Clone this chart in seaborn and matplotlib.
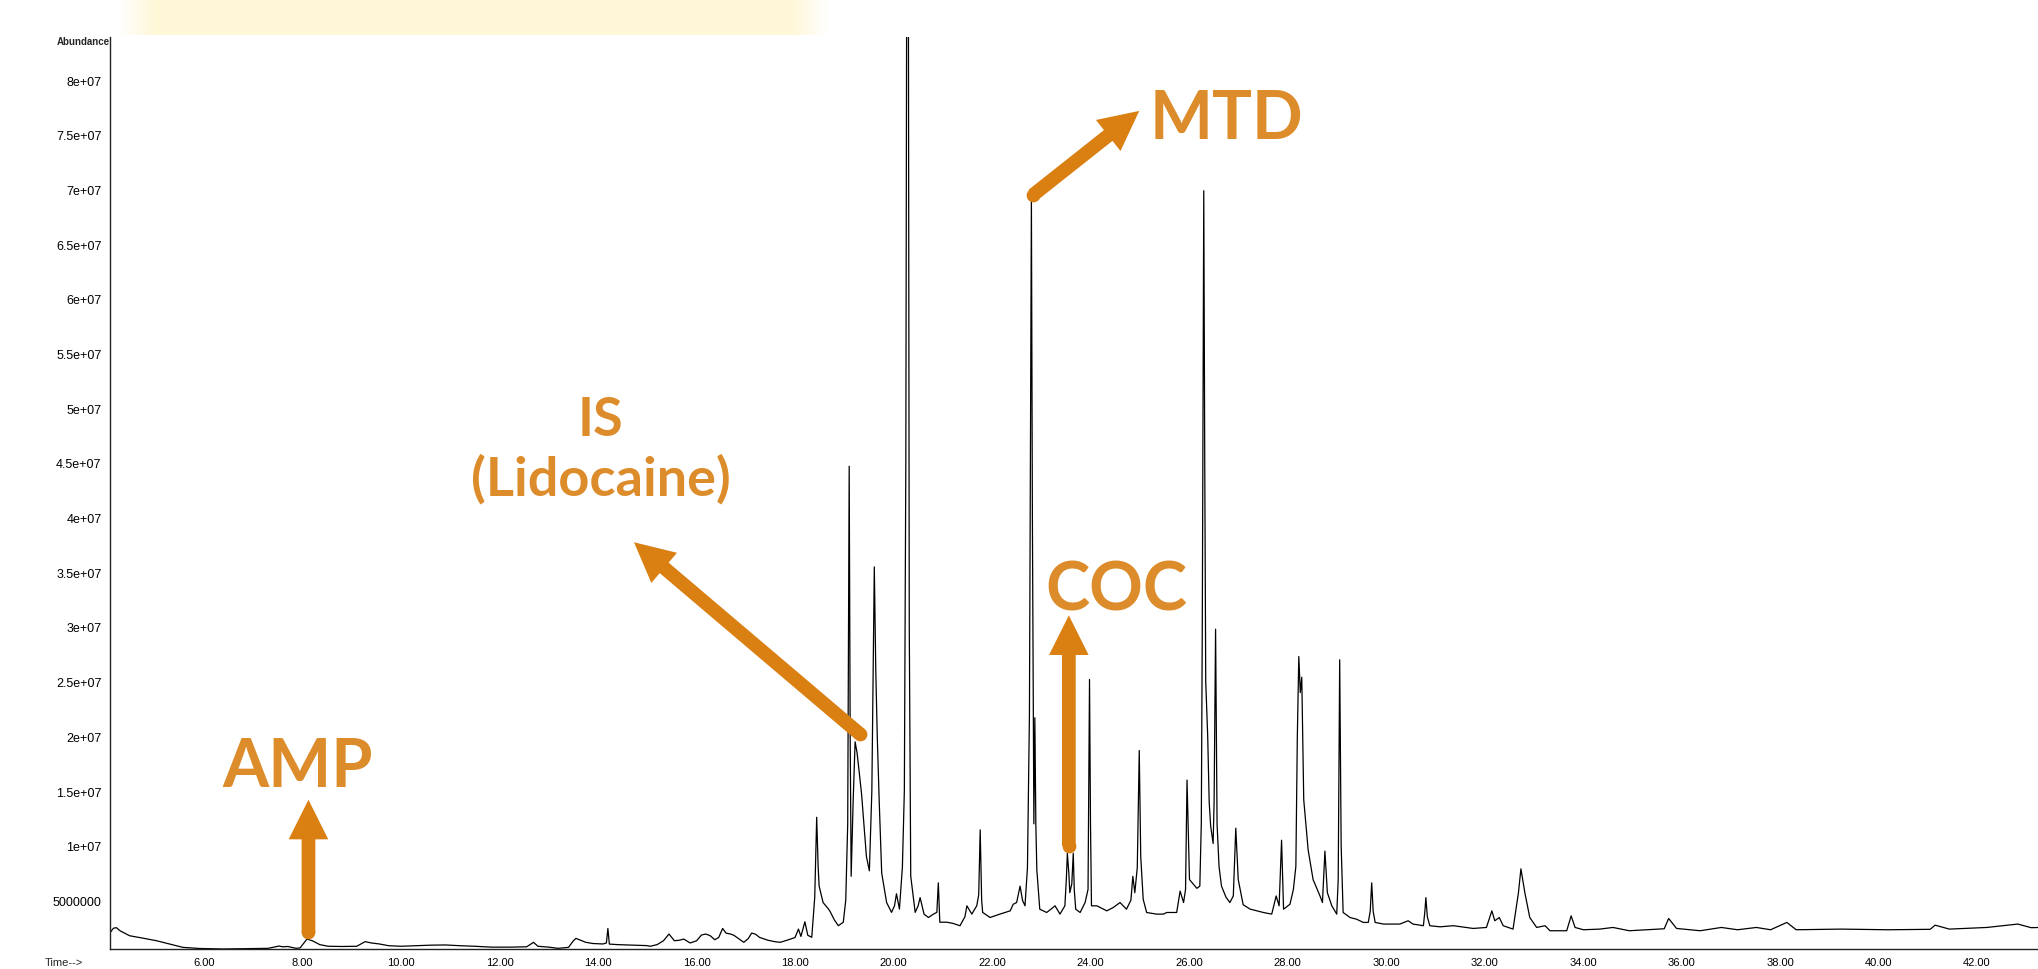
import numpy as np
import pandas as pd
import matplotlib
matplotlib.use("Agg")
import matplotlib.pyplot as plt
import seaborn as sns
from matplotlib.ticker import MultipleLocator, FuncFormatter
from matplotlib.colors import LinearSegmentedColormap

# Total ion chromatogram: retention time (min), abundance (millions)
rt_min = [
    4.10, 4.16, 4.22, 4.30, 4.49, 4.75, 5.03, 5.30, 5.57, 5.90, 6.39, 6.90, 7.30, 7.45,
    7.52, 7.60, 7.70, 7.87, 7.95, 8.09, 8.20, 8.35, 8.52, 8.80, 9.10, 9.20, 9.27, 9.40,
    9.56, 9.75, 10.00, 10.30, 10.60, 10.90, 11.20, 11.50, 11.83, 12.20, 12.55, 12.69,
    12.78, 13.00, 13.19, 13.40, 13.50, 13.55, 13.62, 13.75, 13.90, 14.10, 14.17, 14.20,
    14.23, 14.40, 14.70, 14.99, 15.06, 15.20, 15.33, 15.44, 15.55, 15.65, 15.74, 15.87,
    16.00, 16.10, 16.19, 16.28, 16.37, 16.45, 16.53, 16.60, 16.69, 16.76, 16.82, 16.96,
    17.05, 17.12, 17.20, 17.28, 17.45, 17.59, 17.70, 17.87, 18.00, 18.07, 18.12, 18.20,
    18.26, 18.34, 18.40, 18.44, 18.47, 18.49, 18.57, 18.68, 18.71, 18.80, 18.88, 18.98,
    19.03, 19.07, 19.10, 19.12, 19.14, 19.18, 19.22, 19.26, 19.35, 19.45, 19.51, 19.56,
    19.61, 19.64, 19.67, 19.71, 19.76, 19.86, 19.96, 20.02, 20.06, 20.12, 20.18, 20.22,
    20.25, 20.27, 20.30, 20.32, 20.35, 20.44, 20.50, 20.54, 20.62, 20.71, 20.81, 20.88,
    20.91, 20.94, 21.08, 21.20, 21.35, 21.45, 21.49, 21.59, 21.69, 21.73, 21.76, 21.79,
    21.81, 21.96, 22.16, 22.37, 22.43, 22.50, 22.57, 22.62, 22.67, 22.72, 22.76, 22.80,
    22.82, 22.85, 22.87, 22.89, 22.91, 22.97, 23.11, 23.20, 23.28, 23.38, 23.48, 23.51,
    23.53, 23.56, 23.58, 23.62, 23.65, 23.67, 23.70, 23.79, 23.89, 23.95, 23.98, 24.00,
    24.02, 24.13, 24.33, 24.46, 24.60, 24.73, 24.82, 24.86, 24.90, 24.95, 24.99, 25.02,
    25.07, 25.14, 25.34, 25.48, 25.55, 25.75, 25.82, 25.89, 25.93, 25.96, 26.01, 26.16,
    26.22, 26.25, 26.27, 26.30, 26.32, 26.34, 26.38, 26.41, 26.44, 26.49, 26.51, 26.54,
    26.57, 26.61, 26.66, 26.75, 26.83, 26.90, 26.95, 27.00, 27.10, 27.24, 27.51, 27.68,
    27.77, 27.83, 27.88, 27.92, 28.05, 28.12, 28.17, 28.20, 28.23, 28.26, 28.29, 28.33,
    28.42, 28.52, 28.66, 28.71, 28.76, 28.81, 28.90, 29.00, 29.03, 29.06, 29.09, 29.13,
    29.27, 29.40, 29.54, 29.64, 29.68, 29.71, 29.74, 29.78, 29.95, 30.28, 30.45, 30.55,
    30.76, 30.79, 30.81, 30.84, 30.89, 31.10, 31.37, 31.77, 32.04, 32.15, 32.21, 32.30,
    32.38, 32.58, 32.69, 32.74, 32.82, 32.92, 33.06, 33.23, 33.33, 33.67, 33.76, 33.84,
    34.01, 34.34, 34.61, 34.94, 35.65, 35.74, 35.90, 36.38, 36.81, 37.14, 37.52, 37.81,
    38.14, 38.33, 39.24, 40.20, 41.05, 41.15, 41.44, 42.20, 42.83, 43.10, 43.30,
]
abund_m = [
    2.10, 2.45, 2.50, 2.20, 1.76, 1.55, 1.31, 1.00, 0.70, 0.60, 0.55, 0.58, 0.61, 0.75,
    0.82, 0.75, 0.78, 0.61, 0.65, 1.46, 1.30, 0.95, 0.80, 0.78, 0.80, 1.05, 1.22, 1.10,
    1.01, 0.85, 0.80, 0.85, 0.90, 0.92, 0.85, 0.80, 0.72, 0.72, 0.75, 1.16,
    0.80, 0.72, 0.61, 0.70, 1.30, 1.52, 1.40, 1.16, 1.05, 1.01, 1.10, 2.43,
    1.00, 0.95, 0.90, 0.86, 0.80, 0.95, 1.31, 1.92, 1.31, 1.35, 1.46, 1.10,
    1.30, 1.83, 1.92, 1.76, 1.40, 1.60, 2.43, 2.00, 1.92, 1.80, 1.61, 1.16,
    1.50, 2.01, 1.90, 1.61, 1.35, 1.22, 1.16, 1.40, 1.60, 2.37, 1.70, 3.04,
    1.80, 1.62, 5.25, 12.60, 8.00, 6.30, 4.80, 4.20, 4.00, 3.20, 2.68, 3.00,
    5.00, 12.00, 44.70, 20.00, 7.20, 14.00, 19.50, 18.50, 14.80, 9.00, 7.70, 15.00,
    35.50, 26.00, 20.00, 14.00, 7.50, 4.80, 3.90, 4.50, 5.60, 4.20, 8.00, 15.00,
    45.00, 95.00, 95.00, 30.00, 7.20, 3.90, 4.50, 5.25, 3.74, 3.43, 3.74, 3.90,
    6.60, 3.00, 3.00, 2.90, 2.68, 3.50, 4.50, 3.74, 4.50, 5.50, 11.45, 5.00,
    3.90, 3.43, 3.74, 4.04, 4.64, 4.80, 6.30, 5.00, 4.50, 8.00, 22.00, 69.10,
    40.00, 12.00, 21.70, 12.00, 7.80, 4.19, 3.89, 4.20, 4.50, 3.74, 4.50, 7.00,
    9.30, 7.50, 5.70, 6.50, 9.30, 6.00, 4.19, 3.89, 4.80, 6.00, 25.20, 12.00,
    4.50, 4.50, 4.04, 4.34, 4.80, 4.19, 5.00, 7.20, 5.70, 8.00, 18.70, 9.00,
    5.10, 3.89, 3.74, 3.74, 3.89, 3.89, 5.85, 4.80, 6.00, 16.00, 6.90, 6.10,
    6.30, 12.00, 30.00, 69.90, 45.00, 25.00, 20.00, 14.00, 11.80, 10.20, 14.00, 29.80,
    12.00, 8.10, 6.30, 5.30, 4.80, 5.40, 11.60, 6.90, 4.60, 4.20, 3.89, 3.74,
    5.40, 4.50, 10.50, 4.19, 4.64, 6.00, 8.10, 20.00, 27.30, 24.00, 25.40, 14.20,
    9.60, 6.90, 5.40, 4.80, 9.50, 5.70, 4.50, 3.74, 6.90, 27.00, 10.00, 3.89,
    3.43, 3.28, 2.98, 2.98, 4.00, 6.60, 4.00, 2.98, 2.83, 2.83, 3.13, 2.83,
    2.68, 4.00, 5.25, 3.50, 2.68, 2.58, 2.68, 2.43, 2.52, 4.04, 3.13, 3.43,
    2.68, 2.37, 5.70, 7.88, 5.70, 3.43, 2.52, 2.68, 2.22, 2.22, 3.58, 2.52,
    2.31, 2.37, 2.52, 2.22, 2.40, 3.34, 2.43, 2.22, 2.52, 2.31, 2.52, 2.31,
    2.98, 2.31, 2.37, 2.31, 2.35, 2.73, 2.37, 2.52, 2.83, 2.50, 2.52,
]

x_major = [6, 8, 10, 12, 14, 16, 18, 20, 22, 24, 26, 28, 30, 32, 34, 36, 38, 40, 42]
y_major = [5e6, 1e7, 1.5e7, 2e7, 2.5e7, 3e7, 3.5e7, 4e7, 4.5e7, 5e7, 5.5e7,
           6e7, 6.5e7, 7e7, 7.5e7, 8e7]

# compound labels (text, x in min, baseline in millions)
label_text = ["AMP", "IS", "(Lidocaine)", "COC", "MTD"]
label_pos = [(7.91, 15.5), (14.06, 47.55), (14.06, 42.1), (24.52, 31.6), (26.77, 74.7)]
label_size = [48, 39, 39, 48, 48]
# arrows: tail -> tip (min, millions)
arrow_tail = [(8.12, 2.07), (19.32, 20.2), (23.56, 9.97), (22.83, 69.5)]
arrow_tip = [(8.12, 14.2), (14.73, 37.75), (23.56, 31.06), (24.99, 77.2)]

orange = "#DA7F12"
text_orange = "#DD8C2B"

df = pd.DataFrame({"Time": rt_min, "Abundance": np.array(abund_m) * 1e6})

sns.set_theme(style="white")
plt.rcParams["font.family"] = ["Liberation Sans", "DejaVu Sans"]

W, H = 2038, 970
fig = plt.figure(figsize=(W / 100, H / 100), dpi=100)
fig.patch.set_facecolor("white")

# cream slide band across the top
band = fig.add_axes([118 / W, 1 - 36 / H, 712 / W, 36 / H], zorder=-1)
ramp = np.concatenate([np.linspace(0, 1, 40), np.ones(630), np.linspace(1, 0, 42)])
band.imshow(ramp[None, :], aspect="auto", vmin=0, vmax=1,
            cmap=LinearSegmentedColormap.from_list("cream", ["white", "#FFF7D6"]))
band.axis("off")

ax_bottom = 950.0
ax = fig.add_axes([110 / W, (H - ax_bottom) / H, 1 - 110 / W, (ax_bottom - 38) / H])
sns.lineplot(data=df, x="Time", y="Abundance", color="black", lw=0.9,
             sort=False, estimator=None, ax=ax)

ax.set_xlim(4.09, 43.24)
ax.set_ylim(0.55e6, 8.396e7)
ax.set_xlabel("")
ax.set_ylabel("")
for side in ["top", "right"]:
    ax.spines[side].set_visible(False)
for side in ["left", "bottom"]:
    ax.spines[side].set_color("#222222")
    ax.spines[side].set_linewidth(1.0)

ax.set_xticks(x_major)
ax.xaxis.set_minor_locator(MultipleLocator(0.4))
ax.xaxis.set_major_formatter(FuncFormatter(lambda v, p: f"{v:.2f}"))
ax.set_yticks(y_major)
ax.yaxis.set_minor_locator(MultipleLocator(1e6))
ax.yaxis.set_major_formatter(
    FuncFormatter(lambda v, p: "5000000" if v < 9e6 else f"{v:g}"))
ax.tick_params(axis="both", which="both", direction="out", colors="#222222",
               labelcolor="black", width=0.8)
ax.tick_params(axis="x", which="major", length=5, pad=0.5, labelsize=8)
ax.tick_params(axis="x", which="minor", length=2.5)
ax.tick_params(axis="y", which="major", length=5, pad=1, labelsize=9)
ax.tick_params(axis="y", which="minor", length=3)

fig.text(110 / W, 1 - 42 / H, "Abundance", ha="right", va="center",
         fontsize=7, fontweight="bold")
fig.text(45 / W, 2 / H, "Time-->", ha="left", va="bottom", fontsize=8)

# arrows and compound names
for (tx, ty), (hx, hy) in zip(arrow_tail, arrow_tip):
    ax.annotate("", xy=(hx, hy * 1e6), xytext=(tx, ty * 1e6),
                arrowprops=dict(arrowstyle="simple,head_length=0.95,head_width=0.95,tail_width=0.33",
                                mutation_scale=30, color=orange, lw=0,
                                shrinkA=0, shrinkB=0))
    ax.plot(tx, ty * 1e6, "o", ms=9.9, color=orange, mec="none")

for text, (x, y), size in zip(label_text, label_pos, label_size):
    ax.text(x, y * 1e6, text, ha="center", va="baseline", fontsize=size,
            fontweight="bold", family=["Lato", "DejaVu Sans"], color=text_orange)

fig.savefig("out.png", dpi=100)
